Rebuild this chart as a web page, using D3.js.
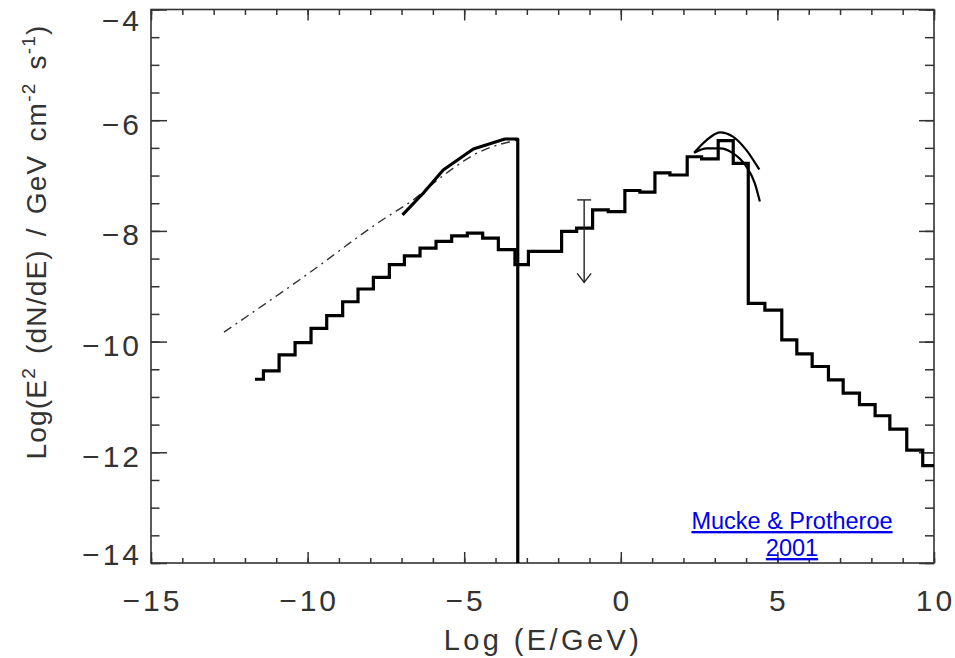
<!DOCTYPE html>
<html>
<head>
<meta charset="utf-8">
<script src="https://cdn.jsdelivr.net/npm/d3@7"></script>
<style>
  body { margin: 0; background: #fff; }
  text { font-family: "Liberation Sans", Arial, sans-serif; }
</style>
</head>
<body>
<svg id="chart"></svg>
<script>
// histogram (stepped spectrum): bin edges and one value per bin
const histEdges = [-11.68, -11.41, -10.91, -10.40, -9.89, -9.39, -8.88, -8.39, -7.90, -7.39,
  -6.91, -6.41, -5.90, -5.40, -4.90, -4.41, -3.91, -3.38, -2.95, -1.89, -1.41, -0.90, -0.40,
  0.13, 0.61, 1.09, 1.57, 2.12, 2.58, 3.11, 3.59, 4.07, 4.60, 5.14, 5.62, 6.11, 6.63, 7.10,
  7.62, 8.12, 8.59, 9.13, 9.64, 10.0];
const histValues = [-10.68, -10.53, -10.24, -10.02, -9.76, -9.53, -9.28, -9.05, -8.84, -8.61,
  -8.45, -8.31, -8.19, -8.09, -8.04, -8.13, -8.34, -8.61, -8.37, -8.01, -7.95, -7.62, -7.65,
  -7.27, -7.30, -6.95, -6.99, -6.66, -6.70, -6.37, -6.78, -9.31, -9.43, -9.97, -10.22, -10.45,
  -10.69, -10.93, -11.14, -11.34, -11.58, -11.96, -12.24];

// thick solid curve (low energy bump, drops to the axis)
const solidE = [-6.97, -6.31, -5.67, -4.71, -3.70, -3.29, -3.29];
const solidV = [-7.71, -7.32, -6.90, -6.52, -6.34, -6.34, -14.0];

// dash-dot curve
const dashE = [-12.67, -10.0, -7.69, -6.63, -5.67, -4.50, -3.32];
const dashV = [-9.83, -8.78, -7.83, -7.44, -7.00, -6.57, -6.36];

// two arcs at the high energy peak
const arcUpE = [2.34, 2.74, 3.16, 3.59, 4.01, 4.42];
const arcUpV = [-6.59, -6.36, -6.22, -6.30, -6.54, -6.89];
const arcLoE = [2.34, 2.74, 3.16, 3.59, 4.01, 4.28, 4.44];
const arcLoV = [-6.59, -6.51, -6.51, -6.60, -6.84, -7.14, -7.47];

// upper limit arrow
const limitE = -1.17;
const limitTop = -7.44;
const limitBottom = -8.93;

const xMajor = [-15, -10, -5, 0, 5, 10];
const xMinor = d3.range(-15, 10.01, 1);
const yMajor = [-14, -12, -10, -8, -6, -4];
const yMinor = d3.range(-14, -3.99, 0.5);

const width = 955, height = 658;
const plotLeft = 151, plotRight = 934, plotTop = 9.5, plotBottom = 563;

const svg = d3.select('#chart').attr('width', width).attr('height', height);

const x = d3.scaleLinear().domain([-15, 10]).range([plotLeft, plotRight]);
const y = d3.scaleLinear().domain([-14, -4]).range([plotBottom, plotTop]);

const axisColor = '#333';

// ticks on all four sides, pointing inward
function ticks(axis, translate, values, size) {
  const g = svg.append('g')
    .attr('transform', translate)
    .call(axis.tickValues(values).tickSize(size).tickFormat(''));
  g.select('.domain').remove();
  g.selectAll('line').attr('stroke', axisColor).attr('stroke-width', 1.5);
  return g;
}
ticks(d3.axisBottom(x), `translate(0,${plotBottom})`, xMajor, -11);
ticks(d3.axisBottom(x), `translate(0,${plotBottom})`, xMinor, -5);
ticks(d3.axisTop(x), `translate(0,${plotTop})`, xMajor, -11);
ticks(d3.axisTop(x), `translate(0,${plotTop})`, xMinor, -5.5);
ticks(d3.axisLeft(y), `translate(${plotLeft},0)`, yMajor, -16);
ticks(d3.axisLeft(y), `translate(${plotLeft},0)`, yMinor, -8.5);
ticks(d3.axisRight(y), `translate(${plotRight},0)`, yMajor, -15);
ticks(d3.axisRight(y), `translate(${plotRight},0)`, yMinor, -9);

// frame
svg.append('rect')
  .attr('x', plotLeft).attr('y', plotTop)
  .attr('width', plotRight - plotLeft).attr('height', plotBottom - plotTop)
  .attr('fill', 'none').attr('stroke', axisColor).attr('stroke-width', 1.6);

const fmt = d3.format('d');

// x tick labels
svg.append('g').selectAll('text')
  .data(xMajor)
  .join('text')
  .attr('x', d => x(d) + 1.5)
  .attr('y', 611)
  .attr('text-anchor', 'middle')
  .attr('font-size', 30)
  .attr('letter-spacing', 3)
  .attr('fill', axisColor)
  .text(d => fmt(d));

// y tick labels (top one pushed down, bottom one up, as in the original)
svg.append('g').selectAll('text')
  .data(yMajor)
  .join('text')
  .attr('x', 142)
  .attr('y', d => d === -4 ? 31 : d === -14 ? 565 : y(d) + 14.5)
  .attr('text-anchor', 'end')
  .attr('font-size', 30)
  .attr('letter-spacing', 3)
  .attr('fill', axisColor)
  .text(d => fmt(d));

// axis titles
svg.append('text')
  .attr('x', 543)
  .attr('y', 650)
  .attr('text-anchor', 'middle')
  .attr('font-size', 29)
  .attr('letter-spacing', 3.4)
  .attr('fill', axisColor)
  .text('Log (E/GeV)');

const yTitle = svg.append('text')
  .attr('transform', 'translate(46,242) rotate(-90)')
  .attr('text-anchor', 'middle')
  .attr('font-size', 28)
  .attr('letter-spacing', 1.2)
  .attr('word-spacing', 4)
  .attr('fill', axisColor);
yTitle.append('tspan').text('Log(E');
yTitle.append('tspan').attr('font-size', 19).attr('dy', -11).text('2');
yTitle.append('tspan').attr('dy', 11).text(' (dN/dE) / GeV cm');
yTitle.append('tspan').attr('font-size', 19).attr('dy', -11).text('-2');
yTitle.append('tspan').attr('dy', 11).text(' s');
yTitle.append('tspan').attr('font-size', 19).attr('dy', -11).text('-1');
yTitle.append('tspan').attr('dy', 11).text(')');

// histogram
const histPts = histValues.map((v, i) => [histEdges[i], v]);
histPts.push([histEdges[histEdges.length - 1], histValues[histValues.length - 1]]);
svg.append('path')
  .attr('d', d3.line().x(d => x(d[0])).y(d => y(d[1])).curve(d3.curveStepAfter)(histPts))
  .attr('fill', 'none')
  .attr('stroke', '#000')
  .attr('stroke-width', 3.2)
  .attr('stroke-linejoin', 'miter');

// dash-dot curve
svg.append('path')
  .attr('d', d3.line().x(d => x(d[0])).y(d => y(d[1])).curve(d3.curveMonotoneX)(dashE.map((e, i) => [e, dashV[i]])))
  .attr('fill', 'none')
  .attr('stroke', '#333')
  .attr('stroke-width', 1.4)
  .attr('stroke-dasharray', '9,5,2,5');

// thick solid curve
svg.append('path')
  .attr('d', d3.line().x(d => x(d[0])).y(d => y(d[1]))(solidE.map((e, i) => [e, solidV[i]])))
  .attr('fill', 'none')
  .attr('stroke', '#000')
  .attr('stroke-width', 3.2)
  .attr('stroke-linejoin', 'round');

// peak arcs
[[arcUpE, arcUpV], [arcLoE, arcLoV]].forEach(([es, vs]) => {
  svg.append('path')
    .attr('d', d3.line().x(d => x(d[0])).y(d => y(d[1])).curve(d3.curveMonotoneX)(es.map((e, i) => [e, vs[i]])))
    .attr('fill', 'none')
    .attr('stroke', '#000')
    .attr('stroke-width', 2.2);
});

// upper limit with arrow
const lx = x(limitE);
svg.append('line')
  .attr('x1', lx).attr('x2', lx)
  .attr('y1', y(limitTop)).attr('y2', y(limitBottom))
  .attr('stroke', '#222').attr('stroke-width', 1.4);
svg.append('line')
  .attr('x1', lx - 7).attr('x2', lx + 7)
  .attr('y1', y(limitTop)).attr('y2', y(limitTop))
  .attr('stroke', '#222').attr('stroke-width', 1.4);
svg.append('path')
  .attr('d', `M${lx - 7},${y(limitBottom) - 9}L${lx},${y(limitBottom)}L${lx + 7},${y(limitBottom) - 9}`)
  .attr('fill', 'none')
  .attr('stroke', '#222').attr('stroke-width', 1.4);

// citation link
const cite = svg.append('text')
  .attr('text-anchor', 'middle')
  .attr('font-family', '"DejaVu Sans", Verdana, sans-serif')
  .attr('font-size', 23.5)
  .attr('fill', '#0000ee')
  .attr('text-decoration', 'underline');
cite.append('tspan').attr('x', 792).attr('y', 529).text('Mucke & Protheroe');
cite.append('tspan').attr('x', 792).attr('y', 556).text('2001');
</script>
</body>
</html>
